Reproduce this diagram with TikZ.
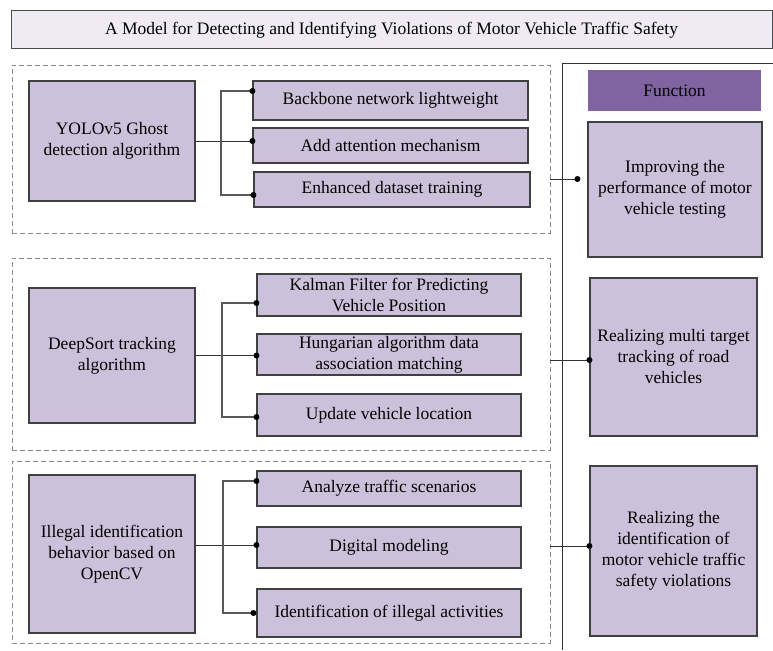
\documentclass[tikz,border=0pt]{standalone}
\usepackage{fontspec}
\setmainfont{Liberation Serif}
\definecolor{lav}{HTML}{CCC1DA}
\definecolor{fnpurple}{HTML}{8064A2}
\definecolor{titlefill}{HTML}{EEECF2}
\definecolor{edge}{HTML}{404040}
\definecolor{dashgray}{HTML}{8C8C8C}
\begin{document}
\begin{tikzpicture}[x=1pt,y=-1pt,
  every node/.style={font=\fontsize{17.5}{21}\selectfont, inner sep=0pt, align=center},
  box/.style={draw=edge, line width=1.1pt, fill=lav, rectangle},
  grp/.style={draw=dashgray, line width=0.9pt, dash pattern=on 5pt off 3pt, rectangle},
  conn/.style={draw=black!80, line width=1pt},
  bus/.style={draw=black!65, line width=1.3pt},
  dot/.style={circle, fill=black, minimum size=6pt, inner sep=0pt}]
\useasboundingbox (0,0) rectangle (773,650);

% title
\node[draw=black!70, line width=1pt, fill=titlefill, minimum width=761pt, minimum height=38pt] (title) at (391.5,30) {A Model for Detecting and Identifying Violations of Motor Vehicle Traffic Safety};

% right panel frame
\coordinate (rtop) at (773,64);
\coordinate (vtop) at (562,64);
\coordinate (vbot) at (562,650);
\draw[draw=black!80, line width=1pt] (rtop) -- (vtop) -- (vbot);

% group 1
\node[grp, minimum width=538pt, minimum height=168pt] (g1) at (281,149) {};
\node[box, minimum width=166pt, minimum height=120pt] (yolo) at (112,141) {YOLOv5 Ghost\\detection algorithm};
\node[box, minimum width=275pt, minimum height=39pt] (b1) at (390.5,100.5) {Backbone network lightweight};
\node[box, minimum width=275pt, minimum height=35pt] (b2) at (390.5,145.5) {Add attention mechanism};
\node[box, minimum width=276pt, minimum height=35pt] (b3) at (392,189.5) {Enhanced dataset training};
\coordinate (bus1) at (221,141);
\draw[conn] (yolo.east) -- (yolo.east -| b2.west) node[dot]{};
\draw[bus] ([yshift=9.5pt]b1.west) node[dot]{} -| (bus1) |- ([yshift=-5.5pt]b3.west) node[dot]{};

% group 2
\node[grp, minimum width=538pt, minimum height=192pt] (g2) at (281,354) {};
\node[box, minimum width=166pt, minimum height=135pt] (ds) at (112,355.5) {DeepSort tracking\\algorithm};
\node[box, minimum width=264pt, minimum height=42pt] (k) at (389,295) {Kalman Filter for Predicting\\Vehicle Position};
\node[box, minimum width=264pt, minimum height=41pt] (h) at (389,354.5) {Hungarian algorithm data\\association matching};
\node[box, minimum width=264pt, minimum height=42pt] (u) at (389,415) {Update vehicle location};
\coordinate (bus2) at (222,355.5);
\draw[conn] (ds.east) -- (ds.east -| h.west) node[dot]{};
\draw[bus] ([yshift=-8pt]k.west) node[dot]{} -| (bus2) |- ([yshift=-2pt]u.west) node[dot]{};

% group 3
\node[grp, minimum width=538pt, minimum height=182pt] (g3) at (281,552) {};
\node[box, minimum width=166pt, minimum height=158pt] (il) at (112,554) {Illegal identification\\behavior based on\\OpenCV};
\node[box, minimum width=264pt, minimum height=35pt] (a) at (389,488.5) {Analyze traffic scenarios};
\node[box, minimum width=264pt, minimum height=41pt] (d) at (389,547.5) {Digital modeling};
\node[box, minimum width=264pt, minimum height=48pt] (i) at (389,613) {Identification of illegal activities};
\coordinate (bus3) at (223,545);
\draw[conn] ([yshift=2.5pt]d.west) node[dot]{} -- ([yshift=2.5pt]d.west -| il.east);
\draw[bus] ([yshift=7.5pt]a.west) node[dot]{} -| (bus3) |- ([xshift=-3pt]i.west) node[dot]{};

% function column
\node[fill=fnpurple, minimum width=173pt, minimum height=41pt] (fn) at (674.5,90.5) {Function};
\node[box, minimum width=174pt, minimum height=135pt] (f1) at (675,189.5) {Improving the\\performance of motor\\vehicle testing};
\node[box, minimum width=167pt, minimum height=158pt] (f2) at (673.5,357) {Realizing multi target\\tracking of road\\vehicles};
\node[box, minimum width=167pt, minimum height=170pt] (f3) at (673.5,551) {Realizing the\\identification of\\motor vehicle traffic\\safety violations};

\draw[conn] ([yshift=-30pt]g1.east) -- ([xshift=-10pt,yshift=10.5pt]f1.west) node[dot]{};
\draw[conn] ([yshift=-6pt]g2.east) -- ([yshift=-3pt]f2.west) node[dot]{};
\draw[conn] ([yshift=6pt]g3.east) -- ([yshift=5pt]f3.west) node[dot]{};
\end{tikzpicture}
\end{document}
